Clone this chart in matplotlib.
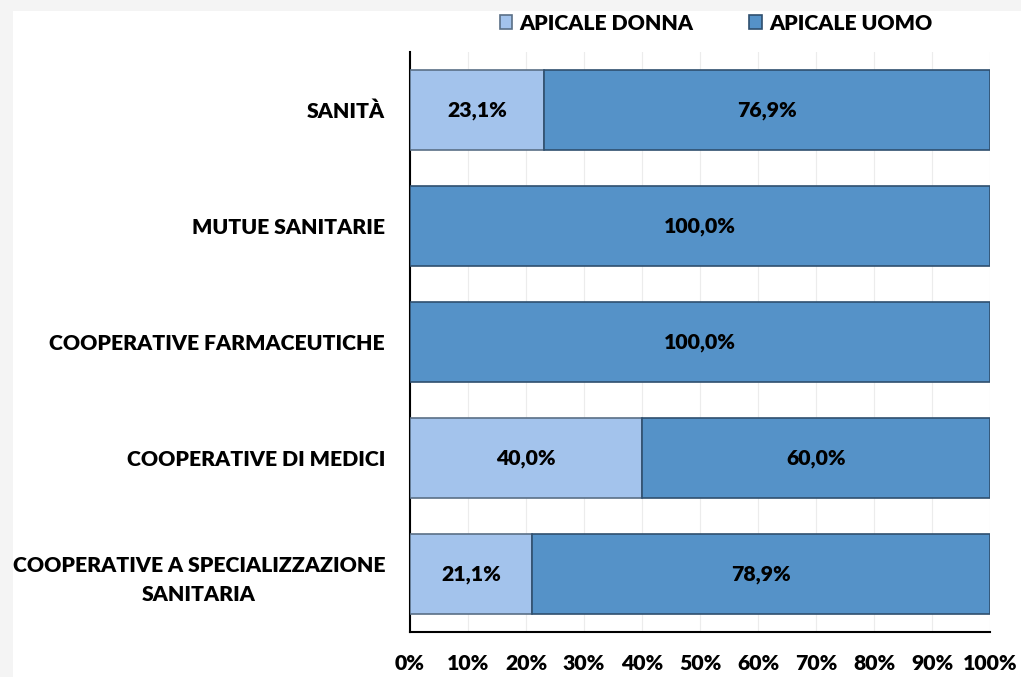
import matplotlib.pyplot as plt
from matplotlib.patches import Rectangle
import numpy as np

categories = ["SANITÀ", "MUTUE SANITARIE", "COOPERATIVE FARMACEUTICHE",
              "COOPERATIVE DI MEDICI", "COOPERATIVE A SPECIALIZZAZIONE\nSANITARIA"]
donna = [23.1, 0.0, 0.0, 40.0, 21.1]
uomo = [76.9, 100.0, 100.0, 60.0, 78.9]
series_names = ["APICALE DONNA", "APICALE UOMO"]
ticks = [0, 10, 20, 30, 40, 50, 60, 70, 80, 90, 100]

c_donna = "#a3c3ec"
c_uomo = "#5592c8"
plt.rcParams['font.family'] = ['Lato', 'DejaVu Sans']
fs = 15.3
fw = "heavy"

fig = plt.figure(figsize=(10.21, 6.77), dpi=100)
fig.patch.set_facecolor("#f4f4f4")
# white panel (light gray frame at top and left)
fig.add_artist(Rectangle((13 / 1021, 0), 1, 1 - 11 / 677, transform=fig.transFigure,
                         facecolor="white", edgecolor="none", zorder=-10))

ax = fig.add_axes([410 / 1021, 45 / 677, 580 / 1021, 580 / 677])
ax.set_facecolor("white")
y = np.arange(len(categories))
h = 0.69

b1 = ax.barh(y, donna, height=h, color=c_donna, edgecolor="#5a6f86", linewidth=1.2,
             label=series_names[0], zorder=3)
b2 = ax.barh(y, uomo, left=donna, height=h, color=c_uomo, edgecolor="#2f4f6e", linewidth=1.2,
             label=series_names[1], zorder=3)

for bars, vals, lefts in [(b1, donna, [0] * len(donna)), (b2, uomo, donna)]:
    for bar, v, l in zip(bars, vals, lefts):
        if v > 0:
            ax.text(l + v / 2, bar.get_y() + bar.get_height() / 2,
                    f"{v:.1f}%".replace(".", ","), ha="center", va="center",
                    fontsize=fs, fontweight=fw, color="black", zorder=4)

ax.set_xlim(0, 100)
ax.set_ylim(len(categories) - 0.5, -0.5)
ax.set_xticks(ticks)
ax.set_xticklabels([f"{t}%" for t in ticks], fontsize=fs, fontweight=fw)
ax.set_yticks(y)
ax.set_yticklabels(categories, fontsize=fs, fontweight=fw)
ax.tick_params(axis="y", length=0, pad=18)
ax.tick_params(axis="x", length=0, pad=16)
ax.xaxis.grid(True, color="#ececec", linewidth=0.8, zorder=0)
ax.set_axisbelow(True)
for s in ["top", "right"]:
    ax.spines[s].set_visible(False)
ax.spines["left"].set_color("black")
ax.spines["bottom"].set_color("black")
ax.spines["left"].set_linewidth(1.5)
ax.spines["bottom"].set_linewidth(1.5)
for lab in ax.get_yticklabels():
    lab.set_multialignment("center")
    lab.set_linespacing(1.6)

fig.legend(handles=[b1, b2], labels=series_names, loc="center", ncol=2,
           bbox_to_anchor=(716 / 1021, 1 - 23 / 677), frameon=False,
           prop={"size": fs, "weight": fw}, handlelength=0.6, handleheight=0.6,
           handletextpad=0.35, columnspacing=2.6)

fig.savefig("out.png", dpi=100, facecolor=fig.get_facecolor())
